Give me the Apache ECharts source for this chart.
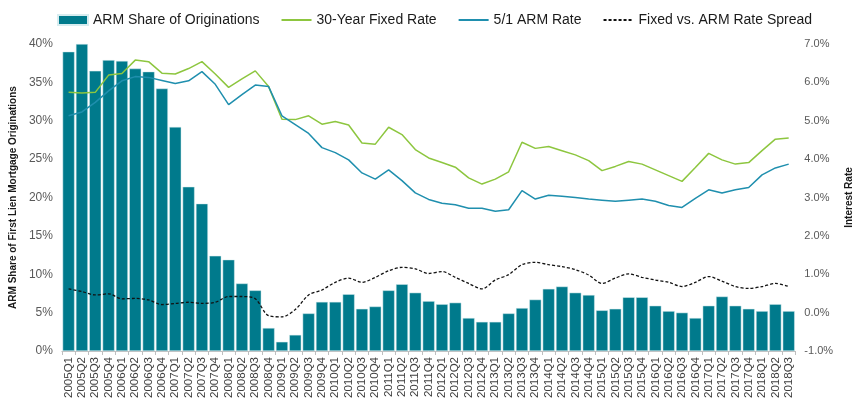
<!DOCTYPE html>
<html>
<head>
<meta charset="utf-8">
<script src="https://cdn.jsdelivr.net/npm/echarts@6/dist/echarts.min.js"></script>
<style>
  html, body { margin: 0; padding: 0; background: #fff; }
  #chart { width: 862px; height: 403px; }
</style>
</head>
<body>
<div id="chart"></div>
<script>
var quarters = [
  "2005Q1", "2005Q2", "2005Q3", "2005Q4", "2006Q1", "2006Q2", "2006Q3", "2006Q4",
  "2007Q1", "2007Q2", "2007Q3", "2007Q4", "2008Q1", "2008Q2", "2008Q3", "2008Q4",
  "2009Q1", "2009Q2", "2009Q3", "2009Q4", "2010Q1", "2010Q2", "2010Q3", "2010Q4",
  "2011Q1", "2011Q2", "2011Q3", "2011Q4", "2012Q1", "2012Q2", "2012Q3", "2012Q4",
  "2013Q1", "2013Q2", "2013Q3", "2013Q4", "2014Q1", "2014Q2", "2014Q3", "2014Q4",
  "2015Q1", "2015Q2", "2015Q3", "2015Q4", "2016Q1", "2016Q2", "2016Q3", "2016Q4",
  "2017Q1", "2017Q2", "2017Q3", "2017Q4", "2018Q1", "2018Q2", "2018Q3"
];

// ARM share of first lien originations, %
var armShare = [
  39.0, 40.0, 36.5, 37.9, 37.8, 36.8, 36.4, 34.2,
  29.2, 21.4, 19.2, 12.4, 11.9, 8.8, 7.9, 3.0,
  1.2, 2.1, 4.9, 6.4, 6.4, 7.4, 5.5, 5.8,
  7.9, 8.7, 7.6, 6.5, 6.1, 6.3, 4.3, 3.8,
  3.8, 4.9, 5.6, 6.7, 8.1, 8.4, 7.6, 7.3,
  5.3, 5.5, 7.0, 7.0, 5.9, 5.2, 5.0, 4.3,
  5.9, 7.1, 5.9, 5.5, 5.2, 6.1, 5.2
];

// 30-year fixed rate, %
var fixedRate = [
  5.74, 5.72, 5.74, 6.19, 6.23, 6.58, 6.54, 6.24,
  6.22, 6.36, 6.54, 6.22, 5.87, 6.09, 6.30, 5.89,
  5.04, 5.03, 5.13, 4.91, 4.98, 4.89, 4.42, 4.39,
  4.83, 4.64, 4.25, 4.03, 3.91, 3.79, 3.51, 3.35,
  3.48, 3.67, 4.44, 4.28, 4.33, 4.22, 4.11, 3.96,
  3.70, 3.81, 3.94, 3.87, 3.72, 3.57, 3.42, 3.78,
  4.15, 3.98, 3.87, 3.91, 4.22, 4.52, 4.55
];

// 5/1 ARM rate, %
var armRate = [
  5.13, 5.23, 5.48, 5.78, 6.04, 6.15, 6.13, 6.05,
  5.97, 6.04, 6.28, 5.95, 5.42, 5.68, 5.93, 5.89,
  5.13, 4.90, 4.67, 4.30, 4.17, 3.98, 3.64, 3.48,
  3.72, 3.44, 3.12, 2.95, 2.85, 2.81, 2.72, 2.72,
  2.64, 2.68, 3.18, 2.96, 3.06, 3.03, 3.00, 2.96,
  2.93, 2.90, 2.93, 2.96, 2.90, 2.79, 2.74, 2.98,
  3.20, 3.12, 3.20, 3.26, 3.59, 3.77, 3.87
];

// fixed vs. ARM spread, %
var spread = [
  0.62, 0.55, 0.46, 0.49, 0.36, 0.37, 0.33, 0.21,
  0.24, 0.27, 0.24, 0.27, 0.42, 0.42, 0.36, -0.08,
  -0.11, 0.08, 0.46, 0.59, 0.79, 0.90, 0.79, 0.92,
  1.09, 1.18, 1.14, 1.02, 1.07, 0.92, 0.76, 0.62,
  0.85, 0.99, 1.25, 1.31, 1.25, 1.20, 1.12, 0.98,
  0.76, 0.90, 1.01, 0.92, 0.85, 0.79, 0.68, 0.79,
  0.94, 0.82, 0.68, 0.63, 0.68, 0.76, 0.68
];

var font = "Liberation Sans, Arial, sans-serif";

var myChart = echarts.init(document.getElementById("chart"));
var option = {
  animation: false,
  textStyle: { fontFamily: font },
  legend: {
    left: 52,
    top: 8,
    itemWidth: 30,
    itemHeight: 10,
    itemGap: 21,
    textStyle: { fontSize: 14, color: "#1a1a1a", fontFamily: font },
    data: [
      { name: "ARM Share of Originations", icon: "rect" },
      // hide the circle that line series put in the legend icon
      { name: "30-Year Fixed Rate", itemStyle: { opacity: 0 } },
      { name: "5/1 ARM Rate", itemStyle: { opacity: 0 } },
      { name: "Fixed vs. ARM Rate Spread", itemStyle: { opacity: 0 } }
    ]
  },
  grid: {
    left: 56,
    right: 54,
    top: 44,
    bottom: 52
  },
  xAxis: {
    type: "category",
    data: quarters,
    boundaryGap: true,
    axisLine: { show: true, lineStyle: { color: "#bfbfbf", width: 1 } },
    axisTick: { show: true, length: 4, lineStyle: { color: "#bfbfbf" } },
    axisLabel: {
      interval: 0,
      rotate: 90,
      fontSize: 11.5,
      color: "#404040",
      margin: 6
    }
  },
  yAxis: [
    {
      type: "value",
      min: 0,
      max: 40,
      interval: 5,
      name: "ARM Share of First Lien Mortgage Originations",
      nameLocation: "middle",
      nameGap: 37,
      nameTextStyle: { fontSize: 10, fontWeight: "bold", color: "#1a1a1a" },
      axisLine: { show: false },
      axisTick: { show: false },
      splitLine: { show: false },
      axisLabel: {
        fontSize: 12,
        color: "#595959",
        margin: 9,
        formatter: "{value}%"
      }
    },
    {
      type: "value",
      min: -1,
      max: 7,
      interval: 1,
      name: "Interest Rate",
      nameLocation: "middle",
      nameGap: 42,
      nameTextStyle: { fontSize: 10, fontWeight: "bold", color: "#1a1a1a" },
      axisLine: { show: false },
      axisTick: { show: false },
      splitLine: { show: false },
      axisLabel: {
        fontSize: 11,
        color: "#595959",
        margin: 9,
        formatter: function (v) { return v.toFixed(1) + "%"; }
      }
    }
  ],
  series: [
    {
      name: "ARM Share of Originations",
      type: "bar",
      yAxisIndex: 0,
      data: armShare,
      barCategoryGap: "10%",
      itemStyle: { color: "#007a8c", borderColor: "#d7ecef", borderWidth: 0.5 }
    },
    {
      name: "30-Year Fixed Rate",
      type: "line",
      yAxisIndex: 1,
      data: fixedRate,
      symbol: "none",
      lineStyle: { color: "#8dc63f", width: 1.5 },
      itemStyle: { color: "#8dc63f" }
    },
    {
      name: "5/1 ARM Rate",
      type: "line",
      yAxisIndex: 1,
      data: armRate,
      symbol: "none",
      lineStyle: { color: "#1f8fae", width: 1.5 },
      itemStyle: { color: "#1f8fae" }
    },
    {
      name: "Fixed vs. ARM Rate Spread",
      type: "line",
      yAxisIndex: 1,
      data: spread,
      symbol: "none",
      smooth: 0.3,
      lineStyle: { color: "#111", width: 1.3, type: [3, 2] },
      itemStyle: { color: "#111" }
    }
  ]
};
myChart.setOption(option);
</script>
</body>
</html>
